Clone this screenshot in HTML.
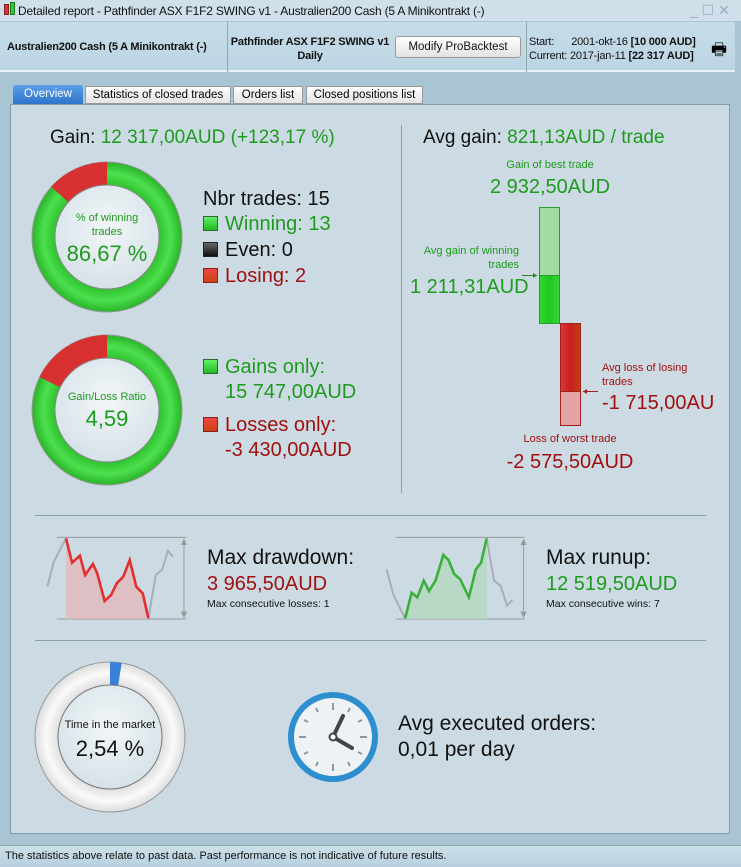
<!DOCTYPE html>
<html><head><meta charset="utf-8"><style>
*{margin:0;padding:0;box-sizing:border-box}
body{width:741px;height:867px;overflow:hidden;background:#a9c4d3;font-family:"Liberation Sans",Arial,sans-serif;position:relative}
.a{position:absolute;white-space:nowrap}
.g{color:#1e9a1e}.r{color:#a01010}
</style></head><body>
<div class="a" style="left:0;top:0;width:741px;height:21px;background:#cfe0ea"></div>
<div class="a" style="left:4px;top:4px;width:5px;height:11px;background:#d33;border:1px solid #822"></div>
<div class="a" style="left:10px;top:2px;width:5px;height:13px;background:#3c3;border:1px solid #272"></div>
<div class="a" style="left:18px;top:4px;font-size:12px;color:#111;letter-spacing:-0.2px">Detailed report - Pathfinder ASX F1F2 SWING v1 - Australien200 Cash (5 A Minikontrakt (-)</div>
<div class="a" style="left:690px;top:2px;font-size:14px;color:#9ab">_ ☐ ✕</div>
<div class="a" style="left:0;top:22px;width:735px;height:50px;background:linear-gradient(#c6dce8,#bdd5e3);border-bottom:2px solid #e8f0f5"></div>
<div class="a" style="left:227px;top:22px;width:1px;height:50px;background:#8aa"></div>
<div class="a" style="left:526px;top:22px;width:1px;height:50px;background:#8aa"></div>
<div class="a" style="left:7px;top:41px;font-size:11px;font-weight:bold;color:#111;letter-spacing:-0.2px">Australien200 Cash (5 A Minikontrakt (-)</div>
<div class="a" style="left:228px;top:35px;width:164px;text-align:center;font-size:11px;font-weight:bold;line-height:14px;color:#111;letter-spacing:-0.2px">Pathfinder ASX F1F2 SWING v1<br>Daily</div>
<div class="a" style="left:395px;top:36px;width:126px;height:22px;border:1px solid #999;border-radius:3px;background:linear-gradient(#fff,#e2e2e2);font-size:11.5px;text-align:center;line-height:20px;color:#111">Modify ProBacktest</div>
<div class="a" style="left:529px;top:35px;font-size:11px;line-height:14px;color:#111;letter-spacing:-0.2px">Start:&nbsp;&nbsp;&nbsp;&nbsp;&nbsp; 2001-okt-16 <b>[10 000 AUD]</b><br>Current: 2017-jan-11 <b>[22 317 AUD]</b></div>
<div class="a" style="left:711px;top:37px;font-size:17px">🖶</div>
<div class="a" style="left:13px;top:85px;width:70px;height:19px;background:linear-gradient(#5a9ee6,#2f74cc);border-radius:3px 3px 0 0;color:#fff;font-size:11.5px;text-align:center;line-height:18px">Overview</div>
<div class="a" style="left:85px;top:86px;width:146px;height:18px;background:linear-gradient(#fff,#e3e3e3);border:1px solid #999;font-size:11.5px;text-align:center;line-height:16px">Statistics of closed trades</div>
<div class="a" style="left:233px;top:86px;width:70px;height:18px;background:linear-gradient(#fff,#e3e3e3);border:1px solid #999;font-size:11.5px;text-align:center;line-height:16px">Orders list</div>
<div class="a" style="left:306px;top:86px;width:117px;height:18px;background:linear-gradient(#fff,#e3e3e3);border:1px solid #999;font-size:11.5px;text-align:center;line-height:16px">Closed positions list</div>
<div class="a" style="left:10px;top:104px;width:720px;height:730px;background:#ccdbe3;border:1px solid #7f9aa8"></div>
<div class="a" style="left:0;top:845px;width:741px;height:22px;background:linear-gradient(#cde0ea,#b8d0dd);border-top:1px solid #8aa"></div>
<div class="a" style="left:5px;top:850px;font-size:11px;color:#111">The statistics above relate to past data. Past performance is not indicative of future results.</div>

<div class="a" style="left:50px;top:127px;font-size:19px;color:#111">Gain: <span class="g">12 317,00AUD (+123,17 %)</span></div>
<div class="a" style="left:423px;top:127px;font-size:19px;color:#111">Avg gain: <span class="g">821,13AUD / trade</span></div>

<svg class="a" style="left:0;top:0" width="741" height="867">
<defs>
<radialGradient id="inn" cx="50%" cy="40%" r="60%"><stop offset="0" stop-color="#f2f6f8"/><stop offset="1" stop-color="#d6e2e8"/></radialGradient>
<radialGradient id="gr" cx="50%" cy="50%" r="50%"><stop offset="0.68" stop-color="#2cc02c"/><stop offset="0.85" stop-color="#4ee04e"/><stop offset="1" stop-color="#28b428"/></radialGradient>
<radialGradient id="wr" cx="50%" cy="50%" r="50%"><stop offset="0.68" stop-color="#ddd"/><stop offset="0.85" stop-color="#fafafa"/><stop offset="1" stop-color="#ddd"/></radialGradient>
<linearGradient id="gb" x1="0" x2="1"><stop offset="0" stop-color="#2ed82e"/><stop offset=".5" stop-color="#1ec81e"/><stop offset="1" stop-color="#3ad43a"/></linearGradient>
<linearGradient id="rb" x1="0" x2="1"><stop offset="0" stop-color="#e03838"/><stop offset=".5" stop-color="#c82020"/><stop offset="1" stop-color="#c04010"/></linearGradient>
</defs>
<circle cx="107" cy="237" r="75" fill="url(#gr)" stroke="#999" stroke-width="1"/>
<path d="M59.8,194.5 A63.5 63.5 0 0 1 107,173.5" fill="none" stroke="#d83030" stroke-width="23"/>
<circle cx="107" cy="237" r="52" fill="url(#inn)" stroke="#888"/>
<circle cx="107" cy="410" r="75" fill="url(#gr)" stroke="#999"/>
<path d="M49.9,382.2 A63.5 63.5 0 0 1 107,346.5" fill="none" stroke="#d83030" stroke-width="23"/>
<circle cx="107" cy="410" r="52" fill="url(#inn)" stroke="#888"/>
<circle cx="110" cy="737" r="75" fill="url(#wr)" stroke="#999"/>
<path d="M110,673.5 A63.5 63.5 0 0 1 119.9,674.3" fill="none" stroke="#3a7fd8" stroke-width="23"/>
<circle cx="110" cy="737" r="52" fill="url(#inn)" stroke="#777"/>

<line x1="401.5" y1="125" x2="401.5" y2="493" stroke="#8aa0ab"/>
<line x1="35" y1="515.5" x2="706" y2="515.5" stroke="#8aa0ab"/>
<line x1="35" y1="640.5" x2="706" y2="640.5" stroke="#8aa0ab"/>

<rect x="539.5" y="207.5" width="20" height="68" fill="#a2dca2" stroke="#2a9a2a"/>
<rect x="539.5" y="275.5" width="20" height="48" fill="url(#gb)" stroke="#2a9a2a"/>
<rect x="560.5" y="323.5" width="20" height="68" fill="url(#rb)" stroke="#a02020"/>
<rect x="560.5" y="391.5" width="20" height="34" fill="#e4a4a4" stroke="#a02020"/>
<line x1="522" y1="275.5" x2="537" y2="275.5" stroke="#2a8a2a"/><path d="M537,275.5 l-4,-2.5 v5z" fill="#2a8a2a"/>
<line x1="583" y1="391.5" x2="598" y2="391.5" stroke="#a02020"/><path d="M583,391.5 l4,-2.5 v5z" fill="#a02020"/>

<g transform="translate(30 520) scale(0.4337 0.33333)">
<g stroke="#999" stroke-width="1" vector-effect="non-scaling-stroke" fill="none">
<line x1="62" y1="52" x2="360" y2="52" vector-effect="non-scaling-stroke"/>
<line x1="62" y1="297" x2="360" y2="297" vector-effect="non-scaling-stroke"/>
<line x1="355" y1="60" x2="355" y2="290" vector-effect="non-scaling-stroke"/>
<line x1="845" y1="52" x2="1140" y2="52" vector-effect="non-scaling-stroke"/>
<line x1="845" y1="297" x2="1140" y2="297" vector-effect="non-scaling-stroke"/>
<line x1="1138" y1="60" x2="1138" y2="290" vector-effect="non-scaling-stroke"/>
</g>
<path d="M355,55 l-7,20 h14z M355,295 l-7,-20 h14z M1138,55 l-7,20 h14z M1138,295 l-7,-20 h14z" fill="#999"/>
<path d="M83,55 L97,128 115,107 127,165 145,132 155,160 172,243 187,225 200,190 215,170 230,120 245,200 260,220 273,297 L83,297Z" fill="#e2b8bc" opacity=".8"/>
<polyline points="40,200 55,125 83,55" fill="none" stroke="#a8aeb2" stroke-width="2" vector-effect="non-scaling-stroke"/>
<polyline points="273,295 290,165 305,148 318,92 330,110" fill="none" stroke="#a8aeb2" stroke-width="2" vector-effect="non-scaling-stroke"/>
<polyline points="83,55 97,128 115,107 127,165 145,132 155,160 172,243 187,225 200,190 215,170 230,120 245,200 260,220 273,295" fill="none" stroke="#e03030" stroke-width="2.6" vector-effect="non-scaling-stroke"/>
<path d="M865,297 L880,218 893,232 908,182 920,213 935,182 953,105 965,120 978,162 992,178 1012,232 1028,148 1040,128 1053,55 L1053,297Z" fill="#b4d8c0" opacity=".85"/>
<polyline points="822,148 838,225 865,295" fill="none" stroke="#a8aeb2" stroke-width="2" vector-effect="non-scaling-stroke"/>
<polyline points="1053,55 1070,182 1085,197 1100,257 1112,240" fill="none" stroke="#a8aeb2" stroke-width="2" vector-effect="non-scaling-stroke"/>
<polyline points="865,295 880,218 893,232 908,182 920,213 935,182 953,105 965,120 978,162 992,178 1012,232 1028,148 1040,128 1053,55" fill="none" stroke="#3ab03a" stroke-width="2.6" vector-effect="non-scaling-stroke"/>
</g>

<circle cx="333" cy="737" r="42" fill="#eef2f4" stroke="#2e8fd0" stroke-width="6"/>
<g stroke="#8a9aa4" stroke-width="2">
<line x1="333" y1="703" x2="333" y2="710"/><line x1="333" y1="764" x2="333" y2="771"/>
<line x1="299" y1="737" x2="306" y2="737"/><line x1="360" y1="737" x2="367" y2="737"/>
<line x1="350" y1="708" x2="348" y2="712"/><line x1="316" y1="708" x2="318" y2="712"/>
<line x1="350" y1="766" x2="348" y2="762"/><line x1="316" y1="766" x2="318" y2="762"/>
<line x1="362" y1="720" x2="358" y2="722"/><line x1="304" y1="720" x2="308" y2="722"/>
<line x1="362" y1="754" x2="358" y2="752"/><line x1="304" y1="754" x2="308" y2="752"/>
</g>
<line x1="333" y1="737" x2="343" y2="716" stroke="#444" stroke-width="4" stroke-linecap="round"/>
<line x1="333" y1="737" x2="352" y2="748" stroke="#444" stroke-width="4" stroke-linecap="round"/>
<circle cx="333" cy="737" r="3.5" fill="#fff" stroke="#444" stroke-width="2"/>
</svg>

<div class="a g" style="left:57px;top:211px;width:100px;text-align:center;font-size:11px;line-height:14px">% of winning<br>trades</div>
<div class="a g" style="left:57px;top:241px;width:100px;text-align:center;font-size:22px">86,67 %</div>
<div class="a g" style="left:57px;top:391px;width:100px;text-align:center;font-size:11px">Gain/Loss Ratio</div>
<div class="a g" style="left:57px;top:406px;width:100px;text-align:center;font-size:22px">4,59</div>
<div class="a" style="left:60px;top:719px;width:100px;text-align:center;font-size:11px;color:#111">Time in the market</div>
<div class="a" style="left:60px;top:736px;width:100px;text-align:center;font-size:22px;color:#111">2,54 %</div>

<div class="a" style="left:203px;top:188px;font-size:20px;color:#111">Nbr trades: 15</div>
<div class="a" style="left:203px;top:216px;width:15px;height:15px;background:linear-gradient(#6e6,#2b2);border:1px solid #363"></div>
<div class="a g" style="left:225px;top:213px;font-size:20px">Winning: 13</div>
<div class="a" style="left:203px;top:242px;width:15px;height:15px;background:linear-gradient(#666,#111);border:1px solid #222"></div>
<div class="a" style="left:225px;top:239px;font-size:20px;color:#111">Even: 0</div>
<div class="a" style="left:203px;top:268px;width:15px;height:15px;background:linear-gradient(#e44,#c41);border:1px solid #822"></div>
<div class="a r" style="left:225px;top:265px;font-size:20px">Losing: 2</div>
<div class="a" style="left:203px;top:359px;width:15px;height:15px;background:linear-gradient(#6e6,#2b2);border:1px solid #363"></div>
<div class="a g" style="left:225px;top:356px;font-size:20px">Gains only:</div>
<div class="a g" style="left:225px;top:381px;font-size:20px">15 747,00AUD</div>
<div class="a" style="left:203px;top:417px;width:15px;height:15px;background:linear-gradient(#e44,#c41);border:1px solid #822"></div>
<div class="a r" style="left:225px;top:414px;font-size:20px">Losses only:</div>
<div class="a r" style="left:225px;top:439px;font-size:20px">-3 430,00AUD</div>

<div class="a g" style="left:480px;top:159px;width:140px;text-align:center;font-size:11px">Gain of best trade</div>
<div class="a g" style="left:460px;top:176px;width:180px;text-align:center;font-size:20px">2 932,50AUD</div>
<div class="a g" style="left:419px;top:244px;width:100px;text-align:right;font-size:11px;line-height:14px">Avg gain of winning<br>trades</div>
<div class="a g" style="left:410px;top:276px;font-size:20px;width:128px;overflow:hidden">1 211,31AUD</div>
<div class="a r" style="left:602px;top:361px;font-size:11px;line-height:14px">Avg loss of losing<br>trades</div>
<div class="a r" style="left:602px;top:392px;font-size:20px;width:111px;overflow:hidden">-1 715,00AUD</div>
<div class="a r" style="left:500px;top:433px;width:140px;text-align:center;font-size:11px">Loss of worst trade</div>
<div class="a r" style="left:480px;top:451px;width:180px;text-align:center;font-size:20px">-2 575,50AUD</div>

<div class="a" style="left:207px;top:546px;font-size:21px;color:#111">Max drawdown:</div>
<div class="a r" style="left:207px;top:573px;font-size:20px">3 965,50AUD</div>
<div class="a" style="left:207px;top:598px;font-size:10.5px;color:#111">Max consecutive losses: 1</div>
<div class="a" style="left:546px;top:546px;font-size:21px;color:#111">Max runup:</div>
<div class="a g" style="left:546px;top:573px;font-size:20px">12 519,50AUD</div>
<div class="a" style="left:546px;top:598px;font-size:10.5px;color:#111">Max consecutive wins: 7</div>

<div class="a" style="left:398px;top:712px;font-size:21px;color:#111">Avg executed orders:</div>
<div class="a" style="left:398px;top:738px;font-size:21px;color:#111">0,01 per day</div>
</body></html>
